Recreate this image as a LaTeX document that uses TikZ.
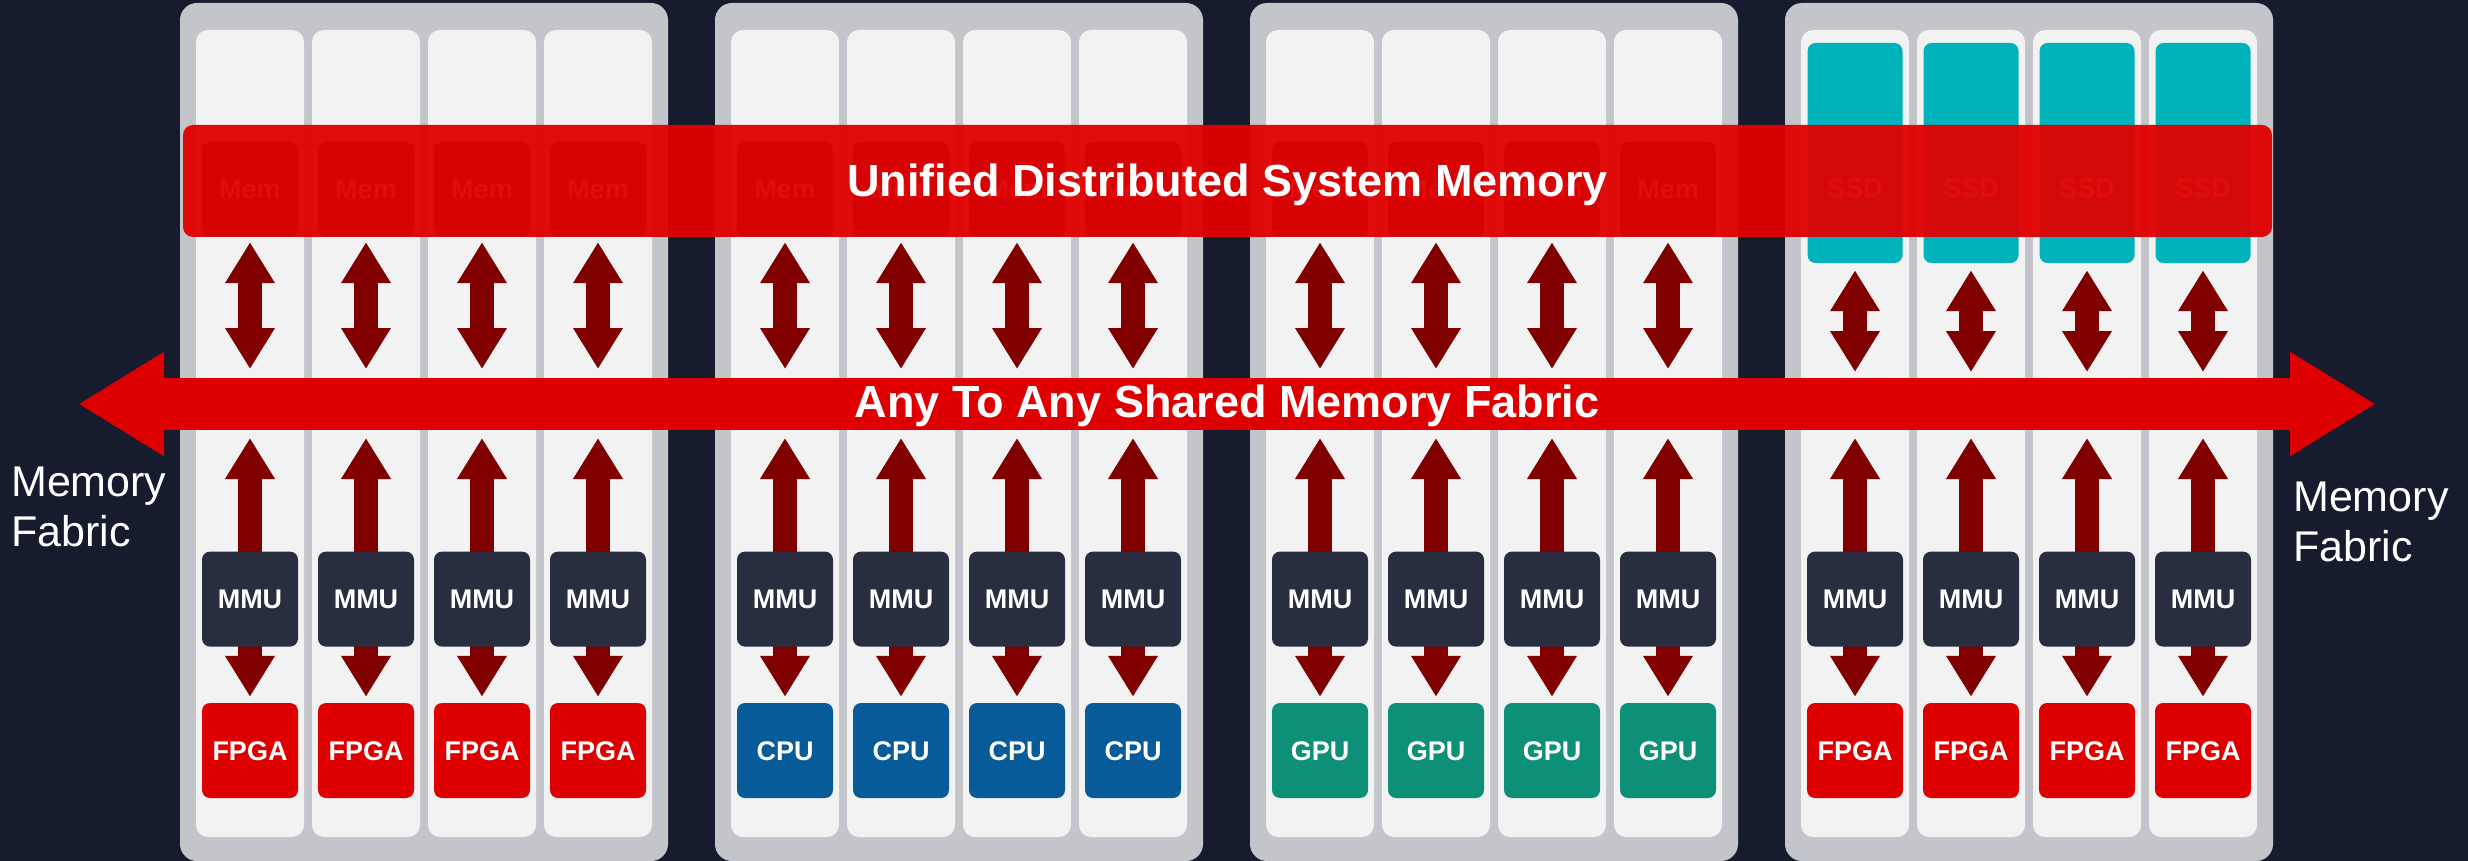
\documentclass[tikz,border=0pt]{standalone}
\usepackage{fontspec}
\setmainfont{Liberation Sans}
\usepackage{tikz}
\usetikzlibrary{positioning,calc,arrows.meta}

\definecolor{bgnavy}{HTML}{171B2E}
\definecolor{rackgray}{HTML}{C4C5CA}
\definecolor{bladegray}{HTML}{F2F2F2}
\definecolor{linkred}{HTML}{800000}
\definecolor{fabricred}{HTML}{DE0000}
\definecolor{bandred}{HTML}{E00000}
\definecolor{mmunavy}{HTML}{282D40}
\definecolor{cpublue}{HTML}{075B99}
\definecolor{gpugreen}{HTML}{0E9078}
\definecolor{ssdteal}{HTML}{00B3BA}

\pgfdeclarelayer{rack}
\pgfdeclarelayer{links}
\pgfdeclarelayer{band}
\pgfsetlayers{rack,links,main,band}

\begin{document}
\begin{tikzpicture}[x=1pt,y=-1pt,
    rack/.style={fill=rackgray,rounded corners=17pt},
    blade/.style={fill=bladegray,rounded corners=12pt,inner sep=0pt,
      minimum width=108pt,minimum height=807pt},
    chip/.style={rounded corners=8pt,inner sep=0pt,minimum width=96pt,
      minimum height=95pt,text=white,font={\fontsize{27}{27}\selectfont\bfseries},
      text height=19pt,text depth=0pt},
    chip label/.style={inner sep=0pt,text=white,font={\fontsize{27}{27}\selectfont\bfseries},
      text height=19pt,text depth=0pt},
    link/.style={<->,>={Triangle[width=47pt,length=41pt]},line width=24pt,draw=linkred},
    fabric/.style={<->,>={Triangle[width=98pt,length=86pt]},line width=52pt,draw=fabricred},
    heading/.style={text=white,font={\fontsize{45}{45}\selectfont\bfseries},
      inner sep=0pt,text height=26pt,text depth=0pt},
    side label/.style={text=white,font={\fontsize{43}{50}\selectfont},
      align=left,inner sep=0pt,anchor=west}]

  \begin{pgfonlayer}{rack}
    \fill[bgnavy] (0,0) rectangle (2468,861);
  \end{pgfonlayer}
  \useasboundingbox (0,0) rectangle (2468,861);

  % ends and edges of the shared fabric
  \coordinate (fab-w) at (78,404);
  \coordinate (fab-e) at (2376,404);
  \coordinate (fab-n) at (0,378);
  \coordinate (fab-s) at (0,430);

  \foreach \k/\chipname/\chipcol in {0/FPGA/fabricred,1/CPU/cpublue,2/GPU/gpugreen,3/FPGA/fabricred}{
    \pgfmathsetmacro{\rx}{180+535*\k}
    \begin{pgfonlayer}{rack}
      \fill[rack] (\rx,3) rectangle ++(488,858);
    \end{pgfonlayer}
    \foreach \j in {0,...,3}{
      \pgfmathsetmacro{\bx}{\rx+70+116*\j}
      \begin{pgfonlayer}{rack}
        \node[blade] (blade-\k-\j) at (\bx,433.5) {};
      \end{pgfonlayer}
      \node[chip,fill=\chipcol] (unit-\k-\j) at (\bx,750.5) {\chipname};
      \node[chip,fill=mmunavy,above=56pt of unit-\k-\j] (mmu-\k-\j) {MMU};
      \ifnum\k=3
        \node[chip,fill=ssdteal,minimum width=95pt,minimum height=220pt] (top-\k-\j) at (\bx,153) {};
        \node[chip label] (ssd-\j) at (\bx,188) {SSD};
        \begin{pgfonlayer}{links}
          \draw[link,shorten <=7pt,shorten >=6pt] (top-\k-\j.south) -- (top-\k-\j.south |- fab-n);
        \end{pgfonlayer}
      \else
        \node[chip,fill=mmunavy] (top-\k-\j) at (\bx,189.5) {Mem};
        \begin{pgfonlayer}{links}
          \draw[link,shorten <=5pt,shorten >=9pt] (top-\k-\j.south) -- (top-\k-\j.south |- fab-n);
        \end{pgfonlayer}
      \fi
      \begin{pgfonlayer}{links}
        \draw[link,shorten <=8pt,shorten >=6pt] (mmu-\k-\j.north |- fab-s) -- (unit-\k-\j.north);
      \end{pgfonlayer}
    }
  }

  \draw[fabric] (fab-w) -- (fab-e)
    node[midway,heading] (fabric) {Any To Any Shared Memory Fabric};

  \begin{pgfonlayer}{band}
    \node[heading,fill=bandred,fill opacity=0.95,text opacity=1,rounded corners=10pt,
      minimum width=2089pt,minimum height=112pt,text height=32pt] (band) at (1227.5,181)
      {Unified Distributed System Memory};
  \end{pgfonlayer}

  \node[side label] (left fabric) at (11,507) {Memory\\Fabric};
  \node[side label] (right fabric) at (2293,522) {Memory\\Fabric};
\end{tikzpicture}
\end{document}
